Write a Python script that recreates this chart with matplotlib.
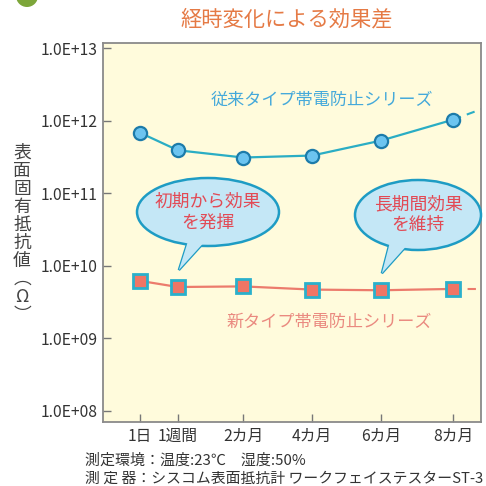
import matplotlib

matplotlib.use("Agg")
import matplotlib.pyplot as plt
from matplotlib.patches import Ellipse, Polygon, Circle

plt.rcParams["font.family"] = ["Noto Sans CJK JP", "DejaVu Sans"]

# time points (positions follow the printed tick spacing)
periods = ["1日", "1週間", "2カ月", "4カ月", "6カ月", "8カ月"]
pos = [0, 1.1, 3, 5, 7, 9.1]

# surface resistivity (Ω)
old_type = [6.8e11, 3.9e11, 3.1e11, 3.3e11, 5.3e11, 1.03e12]
new_type = [6.2e9, 5.1e9, 5.2e9, 4.7e9, 4.6e9, 4.8e9]
# trend continuation past 8 months
old_trend = [1.03e12, 1.9e12]
new_trend = [4.8e9, 4.8e9]
trend_pos = [9.1, 10.6]

yticks = [1e8, 1e9, 1e10, 1e11, 1e12, 1e13]

W = 486
fig = plt.figure(figsize=(W / 100, W / 100), dpi=100)
fig.patch.set_facecolor("white")
ax = fig.add_axes([103 / W, (W - 422) / W, (481 - 103) / W, (422 - 43) / W])
ax.set_facecolor("#FFFBDC")
ax.set_yscale("log")
ax.set_ylim(10 ** 7.848, 10 ** 13.069)
ax.set_xlim(-1.076, 9.91)

BLUE_LINE = "#2AADC4"
RED_LINE = "#EC7B6C"

ax.plot(trend_pos, old_trend, ls=(0, (4, 3)), color=BLUE_LINE, lw=1.5, zorder=2)
ax.plot(trend_pos, new_trend, ls=(0, (4, 3)), color=RED_LINE, lw=1.5, zorder=2)
ax.plot(pos, old_type, color=BLUE_LINE, lw=1.6, marker="o", ms=9.5,
        mfc="#6CC4F0", mec="#1C7BAA", mew=1.6, zorder=3)
ax.plot(pos, new_type, color=RED_LINE, lw=1.6, marker="s", ms=10.5,
        mfc="#F07565", mec="#2AB0CC", mew=2.0, zorder=3)

ax.set_yticks(yticks)
ax.set_yticklabels(["1.0E+08", "1.0E+09", "1.0E+10", "1.0E+11", "1.0E+12", "1.0E+13"])
ax.yaxis.set_minor_locator(matplotlib.ticker.NullLocator())
ax.set_xticks(pos)
ax.set_xticklabels(periods)
ax.tick_params(axis="both", direction="in", length=6, width=1, color="#777777",
               labelsize=11.3, labelcolor="#333333", pad=4)
ax.tick_params(axis="x", pad=4)
for s in ax.spines.values():
    s.set_color("#8a8a8a")
    s.set_linewidth(1.3)

ax.text(5.3, 1.9e12, "従来タイプ帯電防止シリーズ", color="#45A9DA", fontsize=12.3,
        ha="center", va="center")
ax.text(5.5, 1.7e9, "新タイプ帯電防止シリーズ", color="#EA8A80", fontsize=12.3,
        ha="center", va="center")

# overlay in pixel coordinates for the callouts and header bits
ov = fig.add_axes([0, 0, 1, 1], zorder=5)
ov.set_xlim(0, W)
ov.set_ylim(W, 0)
ov.axis("off")
ov.patch.set_alpha(0)


def px(x, y):
    dx, dy = ax.transData.transform((x, y))
    return dx, W - dy


def bubble(cx, cy, w, h, base, target, text):
    tx, ty = px(*target)
    tip = (tx + 1, ty - 17)
    fc, ec = "#C4E7F6", "#1E9CC4"
    tail = [(base[0], cy + h / 2 - 8), tip, (base[1], cy + h / 2 - 8)]
    ov.add_patch(Polygon(tail, closed=True, fc=fc, ec=ec, lw=1.8, zorder=1))
    ov.add_patch(Ellipse((cx, cy), w, h, fc=fc, ec=ec, lw=1.8, zorder=2))
    ov.add_patch(Polygon(tail, closed=True, fc=fc, ec="none", zorder=3))
    ov.text(cx, cy, text, ha="center", va="center", fontsize=12.8,
            color="#E24A55", linespacing=1.2, zorder=4)


bubble(208, 212, 142, 68, (189, 208), (pos[1], new_type[1]), "初期から効果\nを発揮")
bubble(418, 215, 126, 70, (390, 410), (pos[4], new_type[4]), "長期間効果\nを維持")

ov.text(287, 19, "経時変化による効果差", color="#E57A45", fontsize=15.3,
        ha="center", va="center")
ov.add_patch(Circle((27, -4), 11, fc="#7DA63A", ec="none"))

ylabel = "\n".join(["表", "面", "固", "有", "抵", "抗", "値", "︵", "Ω", "︶"])
ov.text(22, 234, ylabel, ha="center", va="center", fontsize=12.8,
        color="#444444", linespacing=1.0)

ov.text(85, 461, "測定環境：温度:23℃　湿度:50%", fontsize=10.8, color="#333333",
        va="center", ha="left")
ov.text(85, 479, "測 定 器：シスコム表面抵抗計 ワークフェイステスターST-3",
        fontsize=10.7, color="#333333", va="center", ha="left")

fig.savefig("out.png", dpi=100, facecolor="white")
